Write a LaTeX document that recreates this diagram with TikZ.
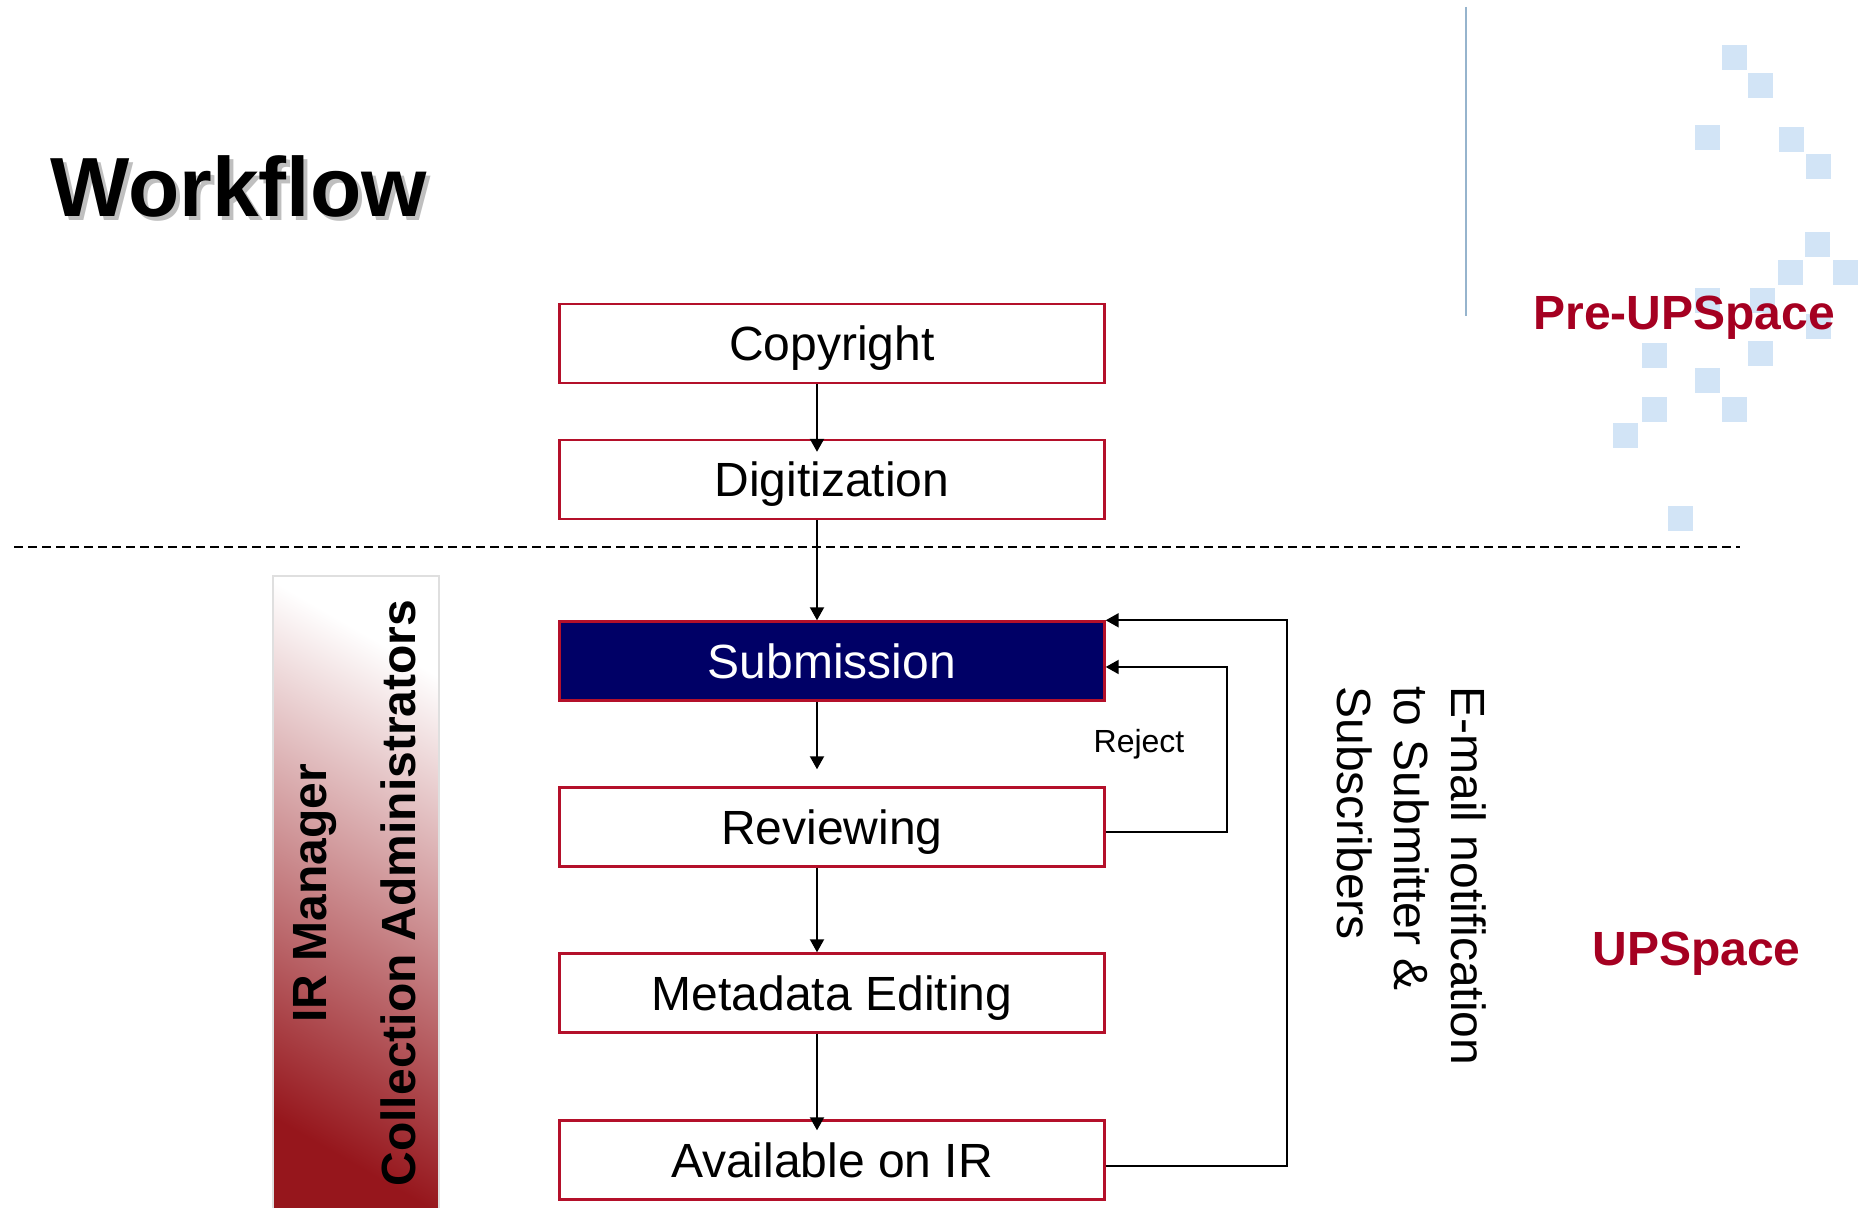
\documentclass[tikz,border=0pt]{standalone}
\usepackage{fontspec}
\setmainfont{Liberation Sans}
\usetikzlibrary{arrows.meta}
\definecolor{upred}{RGB}{165,0,33}
\definecolor{boxred}{RGB}{180,16,42}
\definecolor{subnavy}{RGB}{0,0,102}
\definecolor{tile}{RGB}{210,228,246}
\definecolor{rulecol}{RGB}{150,180,205}
\definecolor{barred}{RGB}{150,22,28}
\definecolor{barmid}{RGB}{200,150,153}

\begin{document}
\begin{tikzpicture}[x=0.5pt, y=0.5pt,
    stage/.style={draw=boxred, line width=1.2pt, fill=white, inner sep=0pt,
      minimum width=272.5pt, minimum height=39.5pt,
      text height=17.2pt, text depth=0pt, font=\fontsize{24}{29}\selectfont},
    flow/.style={-{Triangle[width=7pt,length=6.5pt]}, line width=1pt},
    side/.style={rotate=90, inner sep=0pt, text height=17.2pt, text depth=0pt,
      font=\bfseries\fontsize{24}{29}\selectfont},
    part/.style={anchor=base west, inner sep=0pt, text=upred,
      font=\bfseries\fontsize{24}{29}\selectfont}]

      \useasboundingbox (0,0) rectangle (1859,1208);

      \foreach \tx/\ty in {1722/1163, 1748/1135, 1695/1083, 1779/1081, 1806/1054,
          1805/976, 1778/948, 1833/948, 1695/920, 1750/920, 1806/894,
          1642/865, 1748/867, 1695/840, 1642/811, 1722/811, 1613/785, 1668/702}
        \fill[tile] (\tx,\ty) rectangle ++(25,-25);

      \draw[rulecol, line width=1pt] (1466,1201) -- (1466,892);

      \draw (54,987) node[anchor=base west, inner sep=0pt, text=black!25,
        font=\bfseries\fontsize{42}{50}\selectfont] (shadow) {Workflow};
      \draw (50,991) node[anchor=base west, inner sep=0pt,
        font=\bfseries\fontsize{42}{50}\selectfont] (title) {Workflow};

      \draw (1533,878) node[part] (pre) {Pre-UPSpace};
      \draw (1592,242) node[part] (ups) {UPSpace};

      \draw[dash pattern=on 4.5pt off 2.5pt, line width=0.9pt] (14,661) -- (1740,661);

      \shade[top color=white, middle color=barmid, bottom color=barred,
        shading angle=-30] (273,-10) rectangle (439,632);
      \draw[gray!25, line width=1pt] (273,-10) rectangle (439,632);
      \draw (309,315) node[side] (irm) {IR Manager};
      \draw (398,315) node[side] (colladm) {Collection Administrators};

      \draw (832,864.5) node[stage] (copyright) {Copyright};
      \draw (832,728.5) node[stage] (digit) {Digitization};
      \draw (832,547) node[stage, fill=subnavy, text=white] (submit) {Submission};
      \draw (832,381) node[stage] (review) {Reviewing};
      \draw (832,215) node[stage] (meta) {Metadata Editing};
      \draw (832,48) node[stage] (avail) {Available on IR};

      \draw[flow] ([xshift=-7.5pt]copyright.south) -- ([xshift=-7.5pt,yshift=-6.5pt]digit.north);
      \draw[flow] ([xshift=-7.5pt]digit.south) -- ([xshift=-7.5pt]submit.north);
      \draw[flow] ([xshift=-7.5pt]submit.south) -- ([xshift=-7.5pt,yshift=8.5pt]review.north);
      \draw[flow] ([xshift=-7.5pt]review.south) -- ([xshift=-7.5pt]meta.north);
      \draw[flow] ([xshift=-7.5pt]meta.south) -- ([xshift=-7.5pt,yshift=-5.5pt]avail.north);

      \draw[flow] ([yshift=-2.5pt]review.east) -- ++(121,0) |- ([yshift=-3pt]submit.east);
      \draw[flow] ([yshift=-3pt]avail.east) -- ++(181,0) |- (submit.north east);

      \draw (1139,467) node[inner sep=0pt, text height=11.5pt, text depth=0pt,
        font=\fontsize{16}{19}\selectfont] (reject) {Reject};

      \draw (1487,522) node[rotate=-90, anchor=north west, inner sep=0pt, align=left,
        font=\fontsize{24}{28.5}\selectfont] (notify)
        {E-mail notification\\to Submitter \&\\Subscribers};

    \end{tikzpicture}
\end{document}
